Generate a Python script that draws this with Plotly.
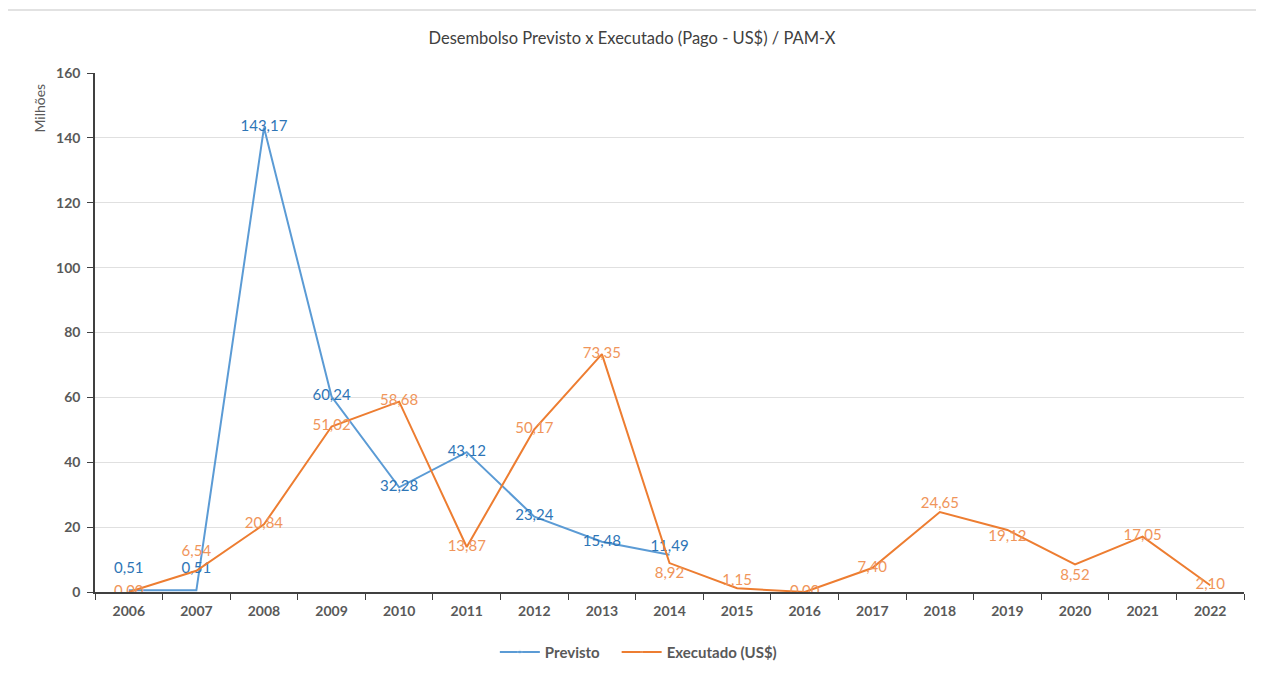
import plotly.graph_objects as go

anos = ["2006", "2007", "2008", "2009", "2010", "2011", "2012", "2013", "2014",
        "2015", "2016", "2017", "2018", "2019", "2020", "2021", "2022"]
previsto = [0.51, 0.51, 143.17, 60.24, 32.28, 43.12, 23.24, 15.48, 11.49]
executado = [0.00, 6.54, 20.84, 51.02, 58.68, 13.87, 50.17, 73.35, 8.92,
             1.15, 0.00, 7.40, 24.65, 19.12, 8.52, 17.05, 2.10]
y_ticks = [0, 20, 40, 60, 80, 100, 120, 140, 160]

# label placement
pos_prev = ["top center", "top center"] + ["middle center"] * 6 + ["top center"]
pos_exec = ["middle center", "top center", "middle center", "middle center", "middle center",
            "middle center", "middle center", "middle center", "bottom center", "top center",
            "middle center", "middle center", "top center", "bottom center", "bottom center",
            "middle center", "middle center"]
# invisible marker sizes, only used to push labels off the points
off_prev = [20, 20, 0, 0, 0, 0, 0, 0, 0]
off_exec = [0, 16, 0, 0, 0, 0, 0, 0, 4, 0, 0, 0, 0, 0, 6, 0, 0]

fonte = "Lato, 'Open Sans', sans-serif"
cinza = "#595959"
leg_font = dict(family=fonte, size=15, color=cinza, weight="bold")

fig = go.Figure()
fig.add_trace(go.Scatter(x=anos[:len(previsto)], y=previsto, name="Previsto",
                         mode="lines+markers+text", line=dict(color="#5B9BD5", width=2),
                         marker=dict(size=off_prev, opacity=0),
                         texttemplate="%{y:.2f}", textposition=pos_prev,
                         textfont=dict(family=fonte, size=15, color="#2E75B6"),
                         legend="legend", showlegend=True))
fig.add_trace(go.Scatter(x=anos, y=executado, name="Executado (US$)",
                         mode="lines+markers+text", line=dict(color="#ED7D31", width=2),
                         marker=dict(size=off_exec, opacity=0),
                         texttemplate="%{y:.2f}", textposition=pos_exec,
                         textfont=dict(family=fonte, size=15, color="#F0955A"),
                         legend="legend2", showlegend=True))

fig.update_layout(
    width=1248, height=657,
    margin=dict(l=87, r=12, t=65, b=73, autoexpand=False),
    paper_bgcolor="white", plot_bgcolor="white",
    separators=",.",
    showlegend=True,
    font=dict(family=fonte, color=cinza),
    title=dict(text="Desembolso Previsto x Executado (Pago - US$) / PAM-X",
               x=0.5, xanchor="center", y=0.954, yanchor="middle",
               font=dict(family=fonte, size=16.5, color="#404040")),
    legend=dict(orientation="h", x=0.348, xanchor="left", y=-0.116, yanchor="middle",
                font=leg_font, itemwidth=40, visible=True),
    legend2=dict(orientation="h", x=0.454, xanchor="left", y=-0.116, yanchor="middle",
                 font=leg_font, itemwidth=40, visible=True),
    shapes=[dict(type="rect", xref="paper", yref="paper",
                 x0=-0.0792, x1=1.03, y0=-0.2, y1=1.1214,
                 line=dict(color="#D9D9D9", width=1.5), layer="below")],
    annotations=[dict(text="Milhões", xref="paper", yref="paper",
                      x=-0.048, y=0.933, textangle=-90, showarrow=False,
                      xanchor="center", yanchor="middle",
                      font=dict(family=fonte, size=14, color=cinza))],
)
fig.update_xaxes(type="category", categoryorder="array", categoryarray=anos,
                 range=[-0.5, len(anos) - 0.5],
                 showline=True, linecolor="#404040", linewidth=1.5,
                 ticks="outside", ticklen=6, tickcolor="#404040", tickson="boundaries",
                 showgrid=False, ticklabelstandoff=5,
                 tickfont=dict(family=fonte, size=14, color=cinza, weight="bold"))
fig.update_yaxes(range=[0, 160], tickvals=y_ticks,
                 showline=True, linecolor="#404040", linewidth=1.5,
                 ticks="outside", ticklen=6, tickcolor="#404040", ticklabelstandoff=4,
                 showgrid=True, gridcolor="#E0E0E0", gridwidth=1, zeroline=False,
                 tickfont=dict(family=fonte, size=14, color=cinza, weight="bold"))

fig.write_html("out.html")
